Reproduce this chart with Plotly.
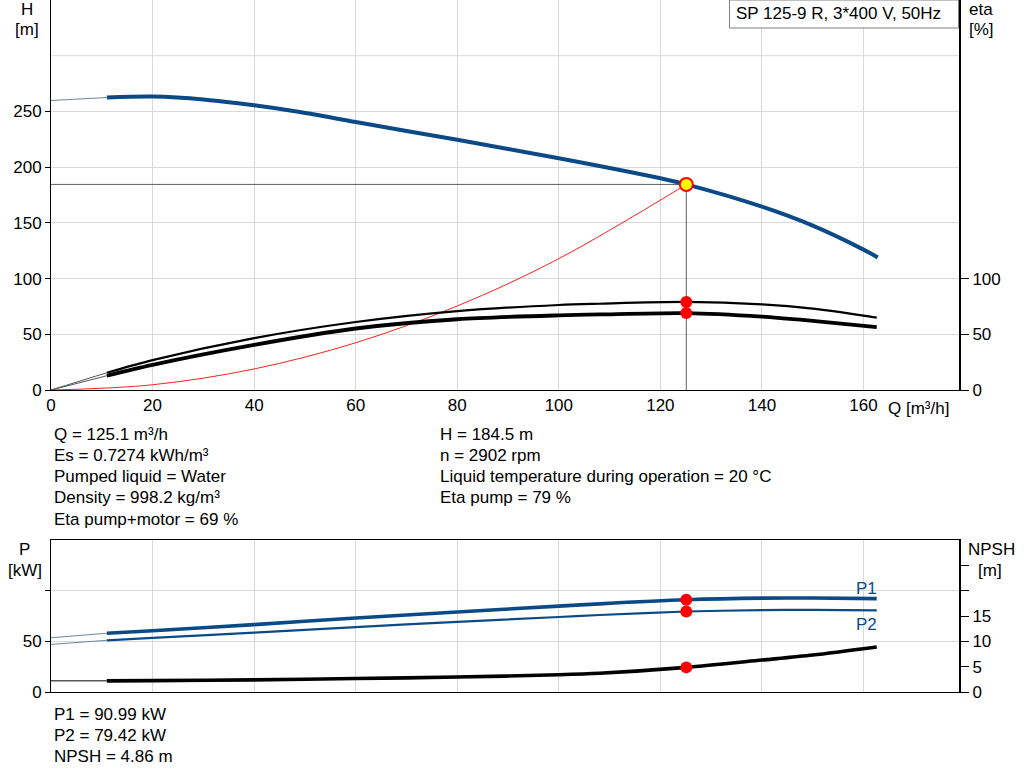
import plotly.graph_objects as go

# ---------------- data ----------------
Q_H = [0, 11, 20, 30, 40, 49, 60, 80, 100, 120, 125.1, 140, 150, 160, 162.8]
H_VALS = [259.8, 262.5, 263.3, 260.8, 255.5, 249.5, 240.5, 224.5, 208, 190, 184.5, 164.5, 147.5, 126, 119]

Q_ETA = [0, 11, 20, 40, 60, 80, 100, 108, 125.1, 140, 150, 162.6]
ETA_PUMP = [0, 15.5, 26.8, 46.5, 61, 70.8, 76.3, 77.4, 79, 76.8, 73, 65]
ETA_TOTAL = [0, 12.8, 22.6, 40.5, 55.2, 63.5, 67, 67.8, 69, 65.8, 62, 56.5]

Q_SYS = [0, 20, 40, 60, 80, 100, 125.1]
H_SYS = [0, 4.7, 18.9, 42.4, 75.4, 117.9, 184.5]

Q_P = [0, 11, 20, 40, 60, 80, 100, 108, 125.1, 140, 150, 162.6]
P1_VALS = [53.5, 58, 60.5, 66.5, 73, 79, 84.7, 87, 90.99, 92.6, 92.7, 92.1]
P2_VALS = [47, 51, 53.5, 58.5, 64, 69.3, 74, 76, 79.42, 80.8, 81, 80.5]

Q_NPSH = [0, 11, 20, 40, 60, 80, 100, 108, 125.1, 140, 150, 162.6]
NPSH_VALS = [2.2, 2.2, 2.25, 2.4, 2.65, 2.95, 3.4, 3.7, 4.86, 6.3, 7.3, 8.9]

Q_MIN = 11          # start of the recommended (thick) range
OP_Q = 125.1
OP_H = 184.5
OP_ETA_PUMP = 79
OP_ETA_TOTAL = 69
OP_P1 = 90.99
OP_P2 = 79.42
OP_NPSH = 4.86

X_TICKS = [0, 20, 40, 60, 80, 100, 120, 140, 160]
H_TICKS = [0, 50, 100, 150, 200, 250]
ETA_TICKS = [0, 50, 100]
P_TICKS = [0, 50, 100]
NPSH_TICKS = [0, 5, 10, 15, 20, 25]
NPSH_LABELS = ["0", "5", "10", "15", "", ""]

TITLE_BOX = "SP 125-9 R, 3*400 V, 50Hz"
INFO_LEFT = ["Q = 125.1 m³/h", "Es = 0.7274 kWh/m³", "Pumped liquid = Water",
             "Density = 998.2 kg/m³", "Eta pump+motor = 69 %"]
INFO_RIGHT = ["H = 184.5 m", "n = 2902 rpm",
              "Liquid temperature during operation = 20 °C", "Eta pump = 79 %"]
INFO_BOTTOM = ["P1 = 90.99 kW", "P2 = 79.42 kW", "NPSH = 4.86 m"]

# ---------------- style ----------------
W, HGT = 1024, 781
FONT = "Liberation Sans, Arial, sans-serif"
FS = 17
BLUE = "#0b4a86"
GRID = "#d9d9d9"
XL, XR = 51, 959


def px(x):
    return x / W


def py(y):
    return 1 - y / HGT


def split(qs, vs):
    thin_q = [q for q in qs if q <= Q_MIN]
    thin_v = [v for q, v in zip(qs, vs) if q <= Q_MIN]
    thick_q = [q for q in qs if q >= Q_MIN]
    thick_v = [v for q, v in zip(qs, vs) if q >= Q_MIN]
    return thin_q, thin_v, thick_q, thick_v


fig = go.Figure()


def add_curve(qs, vs, xa, ya, color, thin_w, thick_w, thin_color=None):
    tq, tv, kq, kv = split(qs, vs)
    fig.add_trace(go.Scatter(x=tq, y=tv, xaxis=xa, yaxis=ya, mode="lines",
                             line=dict(color=thin_color or color, width=thin_w, shape="spline", smoothing=0.8),
                             hoverinfo="skip", showlegend=False))
    fig.add_trace(go.Scatter(x=kq, y=kv, xaxis=xa, yaxis=ya, mode="lines",
                             line=dict(color=color, width=thick_w, shape="spline", smoothing=0.8),
                             hoverinfo="skip", showlegend=False))


# top plot: operating point guide lines
fig.add_trace(go.Scatter(x=[0, OP_Q], y=[OP_H, OP_H], xaxis="x", yaxis="y", mode="lines",
                         line=dict(color="#606060", width=1), showlegend=False, hoverinfo="skip"))
fig.add_trace(go.Scatter(x=[OP_Q, OP_Q], y=[0, OP_H], xaxis="x", yaxis="y", mode="lines",
                         line=dict(color="#606060", width=1), showlegend=False, hoverinfo="skip"))
# system curve
fig.add_trace(go.Scatter(x=Q_SYS, y=H_SYS, xaxis="x", yaxis="y", mode="lines",
                         line=dict(color="#ff2020", width=1, shape="spline"),
                         showlegend=False, hoverinfo="skip"))
# efficiency curves
add_curve(Q_ETA, ETA_PUMP, "x", "y2", "black", 1, 2.2, "#555555")
add_curve(Q_ETA, ETA_TOTAL, "x", "y2", "black", 1, 3.8, "#555555")
# QH curve
add_curve(Q_H, H_VALS, "x", "y", BLUE, 1.2, 4, "#6f86a3")
# markers
fig.add_trace(go.Scatter(x=[OP_Q, OP_Q], y=[OP_ETA_PUMP, OP_ETA_TOTAL], xaxis="x", yaxis="y2",
                         mode="markers", marker=dict(color="#ff0000", size=12),
                         showlegend=False, hoverinfo="skip"))
fig.add_trace(go.Scatter(x=[OP_Q], y=[OP_H], xaxis="x", yaxis="y", mode="markers",
                         marker=dict(color="#ffff00", size=13, line=dict(color="#ff0000", width=2)),
                         showlegend=False, hoverinfo="skip"))

# bottom plot
add_curve(Q_P, P1_VALS, "x2", "y3", BLUE, 1, 3.6, "#6f86a3")
add_curve(Q_P, P2_VALS, "x2", "y3", BLUE, 1, 2.2, "#6f86a3")
add_curve(Q_NPSH, NPSH_VALS, "x2", "y4", "black", 1, 3.6)
fig.add_trace(go.Scatter(x=[OP_Q, OP_Q], y=[OP_P1, OP_P2], xaxis="x2", yaxis="y3",
                         mode="markers", marker=dict(color="#ff0000", size=12),
                         showlegend=False, hoverinfo="skip"))
fig.add_trace(go.Scatter(x=[OP_Q], y=[OP_NPSH], xaxis="x2", yaxis="y4",
                         mode="markers", marker=dict(color="#ff0000", size=12),
                         showlegend=False, hoverinfo="skip"))

XMAX = 178.8
top_dom = [py(390), 1]
bot_dom = [py(692), py(540)]
xdom = [px(XL), px(XR)]
tickfont = dict(family=FONT, size=FS, color="black")

fig.update_layout(
    width=W, height=HGT, margin=dict(l=0, r=0, t=0, b=0, autoexpand=False),
    paper_bgcolor="white", plot_bgcolor="white",
    font=dict(family=FONT, size=FS, color="black"),
    showlegend=False, hovermode=False,
    xaxis=dict(domain=xdom, range=[0, XMAX], anchor="y", tickvals=X_TICKS, automargin=False,
               showgrid=True, gridcolor=GRID, gridwidth=1, zeroline=False,
               showline=True, linecolor="black", linewidth=1, ticks="", tickfont=tickfont),
    yaxis=dict(domain=top_dom, range=[0, 350], anchor="x", tickvals=H_TICKS, automargin=False,
               showgrid=True, gridcolor=GRID, zeroline=False,
               showline=True, linecolor="black", linewidth=1,
               ticks="outside", ticklen=5, tickcolor="black", tickfont=tickfont),
    yaxis2=dict(range=[0, 350], overlaying="y", side="right", anchor="x", tickvals=ETA_TICKS,
                automargin=False,
                showgrid=False, zeroline=False, showline=True, linecolor="black", linewidth=2,
                ticks="outside", ticklen=8, tickcolor="black", tickfont=tickfont),
    xaxis2=dict(domain=xdom, range=[0, XMAX], anchor="y3", tickvals=X_TICKS, automargin=False,
                showticklabels=False, showgrid=True, gridcolor=GRID, zeroline=False,
                showline=True, mirror=True, linecolor="black", linewidth=1, ticks=""),
    yaxis3=dict(domain=bot_dom, range=[0, 150], anchor="x2", tickvals=P_TICKS, automargin=False,
                ticktext=["0", "50", ""], showgrid=True, gridcolor=GRID, zeroline=False,
                showline=True, linecolor="black", linewidth=1,
                ticks="outside", ticklen=5, tickcolor="black", tickfont=tickfont),
    yaxis4=dict(range=[0, 30], overlaying="y3", side="right", anchor="x2", automargin=False,
                tickvals=NPSH_TICKS, ticktext=NPSH_LABELS,
                showgrid=False, zeroline=False, showline=True, linecolor="black", linewidth=2,
                ticks="outside", ticklen=8, tickcolor="black", tickfont=tickfont),
)

# extra grid line at H = 300 (no label)
fig.add_shape(type="line", xref="paper", yref="y", x0=px(XL), x1=px(XR), y0=300, y1=300,
              line=dict(color=GRID, width=1), layer="below")

# title box
fig.add_shape(type="rect", xref="paper", yref="paper", x0=px(729.5), x1=px(958.5),
              y0=py(28), y1=py(0), line=dict(color="#808080", width=1), fillcolor="white")

ann = []


def txt(x, y, s, xanchor="left", color="black", size=FS):
    ann.append(dict(x=px(x), y=py(y), xref="paper", yref="paper", text=s, showarrow=False,
                    xanchor=xanchor, yanchor="middle", font=dict(family=FONT, size=size, color=color)))


txt(734, 14, TITLE_BOX)
txt(27, 10, "H", "center")
txt(27, 30, "[m]", "center")
txt(981, 10, "eta", "center")
txt(981, 30, "[%]", "center")
txt(24, 549, "P", "center")
txt(25, 570, "[kW]", "center")
txt(991, 549, "NPSH", "center")
txt(990, 570, "[m]", "center")
txt(918, 408, "Q [m³/h]", "center")
txt(866, 588, "P1", "center", BLUE)
txt(866, 624, "P2", "center", BLUE)
for i, s in enumerate(INFO_LEFT):
    txt(52, 434 + i * 21.3, s)
for i, s in enumerate(INFO_RIGHT):
    txt(438, 434 + i * 21.3, s)
for i, s in enumerate(INFO_BOTTOM):
    txt(52, 714 + i * 21.3, s)

fig.update_layout(annotations=ann)
fig.write_html("out.html", config={"displayModeBar": False, "staticPlot": True},
               post_script="document.body.style.margin='0';document.body.style.overflow='hidden';")
